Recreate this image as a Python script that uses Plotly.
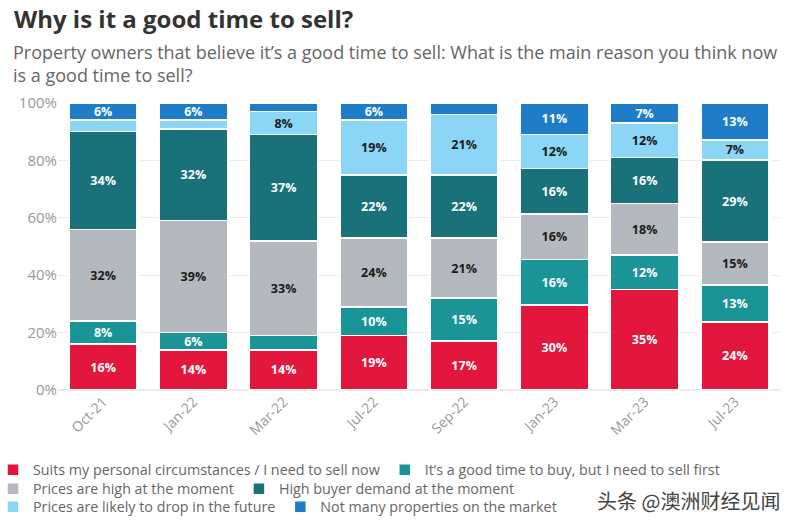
import plotly.graph_objects as go

categories = ["Oct-21", "Jan-22", "Mar-22", "Jul-22", "Sep-22", "Jan-23", "Mar-23", "Jul-23"]

series_names = [
    "Suits my personal circumstances / I need to sell now",
    "It\u2019s a good time to buy, but I need to sell first",
    "Prices are high at the moment",
    "High buyer demand at the moment",
    "Prices are likely to drop in the future",
    "Not many properties on the market",
]

personal = [16, 14, 14, 19, 17, 30, 35, 24]
good_time_buy = [8, 6, 5, 10, 15, 16, 12, 13]
prices_high = [32, 39, 33, 24, 21, 16, 18, 15]
buyer_demand = [34, 32, 37, 22, 22, 16, 16, 29]
prices_drop = [4, 3, 8, 19, 21, 12, 12, 7]
not_many = [6, 6, 3, 6, 4, 11, 7, 13]

series_values = [personal, good_time_buy, prices_high, buyer_demand, prices_drop, not_many]
colors = ["#E3173E", "#1B9498", "#B4B8BF", "#19727A", "#8AD6F4", "#1E7DC6"]
text_colors = ["white", "white", "#1a1a1a", "white", "#1a1a1a", "white"]
legend_ids = ["legend", "legend", "legend2", "legend2", "legend3", "legend3"]

W, H = 796, 526
PL, PT, PR, PB = 58, 103, 780, 390  # plot area in page pixels
l, t, r, b = PL, PT, W - PR, H - PB
pw, ph = PR - PL, PB - PT

def px(xp):
    return (xp - PL) / pw

def py(yp):
    return (PB - yp) / ph

fig = go.Figure()
for name, vals, col, tcol, lg in zip(series_names, series_values, colors, text_colors, legend_ids):
    fig.add_trace(go.Bar(
        x=categories, y=vals, name=name, legend=lg,
        marker=dict(color=col, line=dict(color="white", width=1.5)),
        text=[f"{v}%" if v >= 6 else "" for v in vals],
        textposition="inside", insidetextanchor="middle", textangle=0,
        constraintext="none",
        textfont=dict(family="Open Sans", size=12.5, color=tcol, weight="bold"),
        hoverinfo="skip",
    ))

legend_common = dict(
    orientation="h", xanchor="left", yanchor="middle",
    font=dict(family="Open Sans", size=14.3, color="#666"),
    itemwidth=30, traceorder="normal", bgcolor="rgba(0,0,0,0)",
    borderwidth=0,
)

fig.update_layout(
    barmode="stack", barnorm="percent", bargap=0.245,
    width=W, height=H,
    margin=dict(l=l, r=r, t=t, b=b, autoexpand=False),
    paper_bgcolor="white", plot_bgcolor="white",
    font=dict(family="Open Sans", color="#888"),
    showlegend=True,
    legend=dict(legend_common, x=px(-7), y=py(470)),
    legend2=dict(legend_common, x=px(-7), y=py(489)),
    legend3=dict(legend_common, x=px(-7), y=py(507)),
    xaxis=dict(tickangle=-45, tickfont=dict(size=14, color="#999"), showgrid=False,
               ticks="", showline=False),
    yaxis=dict(range=[0, 100], dtick=20, ticksuffix="%", tickfont=dict(size=15, color="#999"),
               gridcolor="#ebebeb", gridwidth=1, zeroline=True, zerolinecolor="#ebebeb",
               showline=False),
)

fig.add_annotation(text="<b>Why is it a good time to sell?</b>", x=px(12), y=py(18),
                   xref="paper", yref="paper", showarrow=False, xanchor="left", yanchor="middle",
                   font=dict(family="Open Sans", size=24, color="#333"))
fig.add_annotation(text="Property owners that believe it\u2019s a good time to sell: What is the main reason you think now<br>is a good time to sell?",
                   x=px(11), y=py(38), xref="paper", yref="paper", showarrow=False,
                   xanchor="left", yanchor="top", align="left",
                   font=dict(family="Open Sans", size=18, color="#666"))
fig.add_annotation(text="头条 @澳洲财经见闻", x=px(688), y=py(500), xref="paper", yref="paper",
                   showarrow=False, xanchor="center", yanchor="middle",
                   font=dict(family="Noto Sans CJK SC", size=20, color="#444"))

# remove the browser's default 8px body margin so the figure fills the window exactly
fig.write_html("out.html", config={"displayModeBar": False},
               post_script="document.body.style.margin='0px';")
